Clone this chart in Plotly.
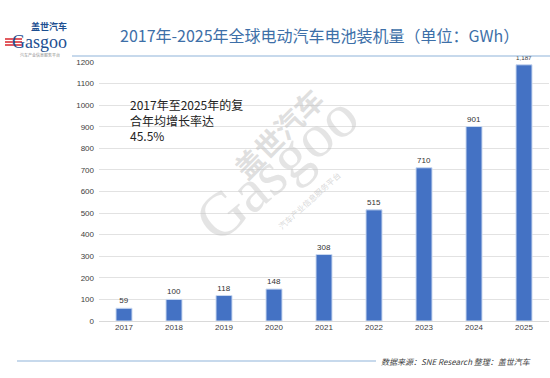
import plotly.graph_objects as go

years = ["2017", "2018", "2019", "2020", "2021", "2022", "2023", "2024", "2025"]
values = [59, 100, 118, 148, 308, 515, 710, 901, 1187]
y_ticks = [0, 100, 200, 300, 400, 500, 600, 700, 800, 900, 1000, 1100, 1200]

title_text = "2017年-2025年全球电动汽车电池装机量（单位：GWh）"
note_text = "2017年至2025年的复<br>合年均增长率达<br>45.5%"
source_text = "数据来源：SNE Research 整理：盖世汽车"

CJK = "Noto Sans CJK SC"
NUM = "Liberation Sans, Arial, sans-serif"

W, H = 550, 378
L, R, T, B = 99, 1, 62, 57
PW, PH = W - L - R, H - T - B

def px(x):
    return (x - L) / PW

def py(y):
    return (H - B - y) / PH

fig = go.Figure()
fig.add_trace(go.Bar(
    x=years, y=values,
    marker=dict(color="#4472c4", line=dict(color="#c9d8f0", width=1)),
    width=0.32,
    text=[f"{v:,}" for v in values],
    textposition="outside",
    textfont=dict(family=NUM, size=8, color="#333333"),
    cliponaxis=False,
    hoverinfo="skip",
))

annotations = [
    # title
    dict(x=px(319), y=py(35), text=title_text,
         font=dict(family=CJK, size=16, color="#3d6fa8"), xanchor="center", yanchor="middle"),
    # note
    dict(x=px(128), y=py(94), text=note_text, align="left", xanchor="left", yanchor="top",
         font=dict(family=CJK, size=12, color="#222222")),
    # source
    dict(x=px(533), y=py(361), text="<i>" + source_text + "</i>", xanchor="right", yanchor="middle",
         font=dict(family=CJK, size=8, color="#404040")),
    # logo
    dict(x=px(49), y=py(26), text="<b>盖世汽车</b>", xanchor="center", yanchor="middle",
         font=dict(family=CJK, size=9, color="#1d4f91"), borderpad=0),
    dict(x=px(40), y=py(42), text="Gasgoo", xanchor="center", yanchor="middle",
         font=dict(family="Liberation Serif", size=18, color="#1d4f91"), borderpad=0),
    dict(x=px(40), y=py(55), text="汽车产业信息服务平台", xanchor="center", yanchor="middle",
         font=dict(family=CJK, size=4, color="#888888"), borderpad=0),
    # watermark
    dict(x=px(278), y=py(133), text="<b>盖世汽车</b>", textangle=-45, xanchor="center", yanchor="middle",
         font=dict(family=CJK, size=28, color="rgba(195,195,195,0.55)")),
    dict(x=px(276), y=py(168), text="Gasgoo", textangle=-40, xanchor="center", yanchor="middle",
         font=dict(family="Liberation Serif", size=62, color="rgba(195,195,195,0.45)")),
    dict(x=px(309), y=py(200), text="汽车产业信息服务平台", textangle=-42, xanchor="center", yanchor="middle",
         font=dict(family=CJK, size=8, color="rgba(190,190,190,0.6)")),
]
for a in annotations:
    a.update(xref="paper", yref="paper", showarrow=False)

shapes = [
    dict(type="line", x0=px(72), x1=px(550), y0=py(56), y1=py(56),
         line=dict(color="#8fb4d9", width=1.2)),
    dict(type="line", x0=px(17), x1=px(376), y0=py(361), y1=py(361),
         line=dict(color="#8fb4d9", width=1.2)),
]
for yy in (39, 42, 45):
    shapes.append(dict(type="line", x0=px(5), x1=px(22), y0=py(yy), y1=py(yy),
                       line=dict(color="#d9242b", width=1.5)))
for s in shapes:
    s.update(xref="paper", yref="paper")

fig.update_layout(
    width=W, height=H,
    margin=dict(l=L, r=R, t=T, b=B),
    paper_bgcolor="white", plot_bgcolor="white",
    showlegend=False,
    annotations=annotations,
    shapes=shapes,
    font=dict(family=NUM),
)
fig.update_xaxes(
    type="category", showgrid=False, showline=False, ticks="",
    tickfont=dict(family=NUM, size=8, color="#404040"),
)
fig.update_yaxes(
    range=[0, 1200], tickvals=y_ticks, showgrid=True, gridcolor="#e2e2e2", gridwidth=1.2,
    zeroline=True, zerolinecolor="#d9d9d9", zerolinewidth=1.2, showline=False, ticks="",
    tickfont=dict(family=NUM, size=8, color="#404040"), ticklabelstandoff=4,
)

fig.write_html("out.html", config={"displayModeBar": False},
               post_script="document.body.style.margin='0';")
